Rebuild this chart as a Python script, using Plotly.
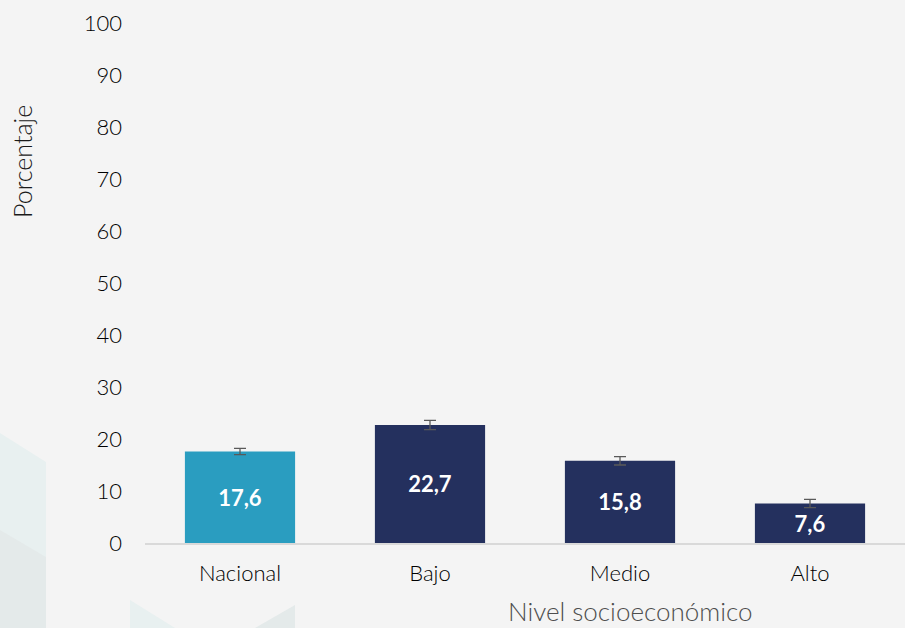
import plotly.graph_objects as go

categories = ["Nacional", "Bajo", "Medio", "Alto"]
values = [17.6, 22.7, 15.8, 7.6]
errors = [0.6, 0.9, 0.8, 0.8]
labels = ["17,6", "22,7", "15,8", "7,6"]
colors = ["#2A9DC0", "#24305E", "#24305E", "#24305E"]
y_ticks = [0, 10, 20, 30, 40, 50, 60, 70, 80, 90, 100]

FONT = "Lato"

fig = go.Figure()
fig.add_trace(go.Bar(
    x=categories, y=values,
    marker=dict(color=colors, line=dict(width=0)),
    text=labels, textposition="inside", insidetextanchor="middle",
    textfont=dict(family=FONT, size=22, color="white", weight="bold"),
    error_y=dict(type="data", array=errors, visible=True, color="#595959",
                 thickness=1.3, width=6),
    hoverinfo="skip",
))


def px2paper(px, py):
    return (px - 145) / 760, (543 - py) / 520


def poly(points, color):
    pts = [px2paper(x, y) for x, y in points]
    path = "M " + " L ".join(f"{x:.4f} {y:.4f}" for x, y in pts) + " Z"
    return dict(type="path", xref="paper", yref="paper", path=path,
                fillcolor=color, line=dict(width=0), layer="below")


# faint decorative background shapes
shapes = [
    poly([(0, 433), (46, 462), (46, 628), (0, 628)], "#E8F0F0"),
    poly([(0, 530), (46, 557), (46, 628), (0, 628)], "#E4EAEA"),
    poly([(130, 600), (175, 628), (130, 628)], "#E8F0F0"),
    poly([(255, 628), (295, 605), (295, 628)], "#E4EAEA"),
]

fig.update_layout(
    width=905, height=628,
    margin=dict(l=145, r=0, t=23, b=85),
    paper_bgcolor="#F4F4F4", plot_bgcolor="#F4F4F4",
    bargap=0.42,
    showlegend=False,
    font=dict(family=FONT, color="#000000"),
    shapes=shapes,
    yaxis=dict(range=[0, 100], tickvals=y_ticks, showgrid=False, zeroline=False,
               showline=False, ticks="",
               tickfont=dict(size=22, color="#000000", weight=300),
               ticklabelstandoff=22),
    xaxis=dict(showline=True, linecolor="#D9D9D9", linewidth=2, ticks="",
               tickfont=dict(size=22, color="#000000", weight=300), showgrid=False,
               ticklabelstandoff=10),
)
fig.add_annotation(text="Porcentaje", xref="paper", yref="paper",
                   x=(22 - 145) / 760, y=(543 - 162) / 520, textangle=-90,
                   xanchor="center", yanchor="middle", showarrow=False,
                   font=dict(family=FONT, size=25, color="#1a1a1a", weight=300))
fig.add_annotation(text="Nivel socioeconómico", xref="paper", yref="paper",
                   x=(630 - 145) / 760, y=(543 - 611) / 520,
                   xanchor="center", yanchor="middle", showarrow=False,
                   font=dict(family=FONT, size=26, color="#4d4d4d", weight=300))

fig.write_html("out.html", config={"displayModeBar": False},
               post_script="document.body.style.margin='0';document.body.style.padding='0';")
